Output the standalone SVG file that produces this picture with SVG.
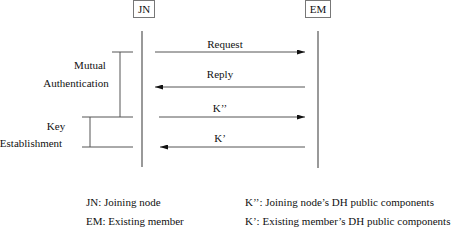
<svg xmlns="http://www.w3.org/2000/svg" width="474" height="232" viewBox="0 0 474 232" font-family="'Liberation Serif', 'Times New Roman', serif">
<style>
text{font-family:"Liberation Serif","Times New Roman",serif;font-size:11px;fill:#111}
.ln{stroke:#555;stroke-width:1;fill:none}
.life{stroke:#777;stroke-width:1.5;fill:none}
.box{fill:#fff;stroke:#777;stroke-width:1}
</style>
<defs>
<marker id="ah" markerWidth="8" markerHeight="5" refX="8" refY="2.5" orient="auto" markerUnits="userSpaceOnUse">
<path d="M0,0 L8,2.5 L0,5 Z" fill="#111"/>
</marker>
</defs>
<g id="JN">
<rect class="box" x="133.5" y="0.5" width="21" height="17"/>
<text x="144" y="13" text-anchor="middle">JN</text>
<line class="life" x1="142" y1="31" x2="142" y2="167"/>
</g>
<g id="EM">
<rect class="box" x="305.5" y="0.5" width="25" height="17"/>
<text x="318" y="13" text-anchor="middle">EM</text>
<line class="life" x1="318" y1="31" x2="318" y2="168"/>
</g>
<g id="connectors">
<line class="ln" x1="155" y1="52" x2="305" y2="52" marker-end="url(#ah)"/>
<text x="225" y="48" text-anchor="middle">Request</text>
<line class="ln" x1="305" y1="87" x2="155" y2="87" marker-end="url(#ah)"/>
<text x="220" y="78" text-anchor="middle">Reply</text>
<line class="ln" x1="159" y1="117" x2="305" y2="117" marker-end="url(#ah)"/>
<text x="220" y="112" text-anchor="middle">K’’</text>
<line class="ln" x1="305" y1="147" x2="160" y2="147" marker-end="url(#ah)"/>
<text x="220" y="142" text-anchor="middle">K’</text>
</g>
<g id="brackets">
<line class="ln" x1="112" y1="52" x2="133" y2="52"/>
<line class="ln" x1="120" y1="52" x2="120" y2="117"/>
<line class="ln" x1="82" y1="117" x2="133" y2="117"/>
<line class="ln" x1="90" y1="117" x2="90" y2="147"/>
<line class="ln" x1="82" y1="147" x2="133" y2="147"/>
<text x="90" y="69" text-anchor="middle">Mutual</text>
<text x="76" y="87" text-anchor="middle">Authentication</text>
<text x="56" y="130" text-anchor="middle">Key</text>
<text x="31" y="147" text-anchor="middle">Establishment</text>
</g>
<g id="legend">
<text x="86" y="206">JN: Joining node</text>
<text x="86" y="225">EM: Existing member</text>
<text x="245" y="206">K’’: Joining node’s DH public components</text>
<text x="245" y="225">K’: Existing member’s DH public components</text>
</g>
</svg>
